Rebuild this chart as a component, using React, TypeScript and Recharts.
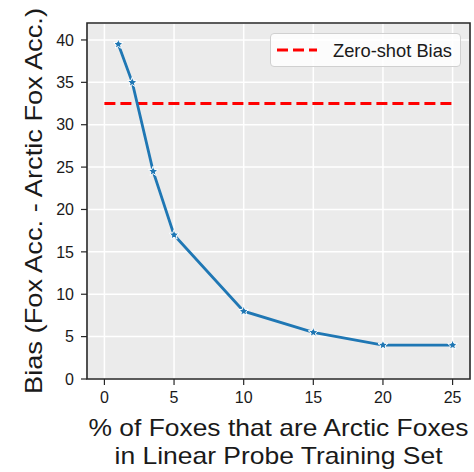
import React from 'react';
import { LineChart, Line, XAxis, YAxis, CartesianGrid, ReferenceArea, Legend, Label } from 'recharts';

const pctArctic = [1, 2, 3.5, 5, 10, 15, 20, 25];
const biasValues = [39.5, 35, 24.5, 17, 8, 5.5, 4, 4];
const zeroShotX = [0, 25];
const zeroShotBias = 32.5;
const xTicks = [0, 5, 10, 15, 20, 25];
const yTicks = [0, 5, 10, 15, 20, 25, 30, 35, 40];
const xLabelLines = ['% of Foxes that are Arctic Foxes', 'in Linear Probe Training Set'];
const yLabelText = 'Bias (Fox Acc. - Arctic Fox Acc.)';
const legendText = 'Zero-shot Bias';

const biasData = pctArctic.map((x, i) => ({ x, y: biasValues[i] }));
const zeroData = zeroShotX.map((x) => ({ x, y: zeroShotBias }));

const FONT = '"Liberation Sans", "DejaVu Sans", sans-serif';
const BLUE = '#1f77b4';

function StarDot(props: any) {
  const { cx, cy, index } = props;
  if (cx == null || cy == null) return null;
  const pts: string[] = [];
  const ro = 5.2;
  const ri = 2.3;
  for (let k = 0; k < 10; k++) {
    const r = k % 2 === 0 ? ro : ri;
    const a = -Math.PI / 2 + (k * Math.PI) / 5;
    pts.push(`${cx + r * Math.cos(a)},${cy + r * Math.sin(a)}`);
  }
  return <polygon key={`star-${index}`} points={pts.join(' ')} fill={BLUE} stroke="#ffffff" strokeWidth={1} strokeLinejoin="round" />;
}

function LegendBox() {
  return (
    <div
      style={{
        width: 191,
        height: 34,
        boxSizing: 'border-box',
        background: 'rgba(255,255,255,0.85)',
        border: '1px solid #d0d0d0',
        borderRadius: 4,
        position: 'relative',
        fontFamily: FONT,
      }}
    >
      <svg width={191} height={34} style={{ position: 'absolute', left: -1, top: -1 }}>
        <line x1={7} x2={47} y1={17} y2={17} stroke="#ff0000" strokeWidth={3} strokeDasharray="11 5" />
        <text x={63} y={17.5} dominantBaseline="central" fontSize={18.5} fill="#1a1a1a" fontFamily={FONT} textLength={119} lengthAdjust="spacingAndGlyphs">
          {legendText}
        </text>
      </svg>
    </div>
  );
}

function XLabelContent(props: any) {
  const vb = props.viewBox || {};
  const cx = vb.x + vb.width / 2;
  const lens = [380, 328];
  return (
    <g>
      {xLabelLines.map((t, i) => (
        <text key={i} x={cx} y={vb.y + 48 + i * 28} textAnchor="middle" dominantBaseline="central" fontSize={24} fill="#1a1a1a" fontFamily={FONT} textLength={lens[i]} lengthAdjust="spacingAndGlyphs">
          {t}
        </text>
      ))}
    </g>
  );
}

function YLabelContent(props: any) {
  const vb = props.viewBox || {};
  const cx = 33;
  const cy = vb.y + vb.height / 2;
  return (
    <text x={cx} y={cy} transform={`rotate(-90 ${cx} ${cy})`} textAnchor="middle" dominantBaseline="central" fontSize={24} fill="#1a1a1a" fontFamily={FONT} textLength={386} lengthAdjust="spacingAndGlyphs">
      {yLabelText}
    </text>
  );
}

export default function App() {
  return (
    <div style={{ position: 'absolute', left: 0, top: 0, width: 474, height: 472, background: '#fff' }}>
      <LineChart width={474} height={472} margin={{ top: 23, right: 4, left: 0, bottom: 0 }} style={{ fontFamily: FONT }}>
        <CartesianGrid fill="#EBEBEB" fillOpacity={1} stroke="#ffffff" strokeWidth={1.5} />
        <XAxis
          dataKey="x"
          type="number"
          domain={[-1.25, 26.25]}
          ticks={xTicks}
          allowDataOverflow
          height={93}
          axisLine={false}
          tickLine={{ stroke: '#262626', strokeWidth: 1.2 }}
          tickSize={6}
          tick={{ fill: '#1a1a1a', fontSize: 16, fontFamily: FONT }}
          tickMargin={7}
        >
          <Label content={<XLabelContent />} />
        </XAxis>
        <YAxis
          type="number"
          domain={[0, 42]}
          ticks={yTicks}
          allowDataOverflow
          width={87}
          axisLine={false}
          tickLine={{ stroke: '#262626', strokeWidth: 1.2 }}
          tickSize={6}
          tick={{ fill: '#1a1a1a', fontSize: 16, fontFamily: FONT }}
          tickMargin={7}
        >
          <Label content={<YLabelContent />} />
        </YAxis>
        <ReferenceArea x1={-1.25} x2={26.25} y1={0} y2={42} fill="none" stroke="#262626" strokeWidth={1.6} ifOverflow="visible" />
        <Line
          data={zeroData}
          dataKey="y"
          type="linear"
          stroke="#ff0000"
          strokeWidth={3}
          strokeDasharray="11 5"
          dot={false}
          activeDot={false}
          isAnimationActive={false}
          legendType="none"
        />
        <Line
          data={biasData}
          dataKey="y"
          type="linear"
          stroke={BLUE}
          strokeWidth={2.8}
          dot={<StarDot />}
          activeDot={false}
          isAnimationActive={false}
        />
        <Legend
          content={<LegendBox />}
          layout="horizontal"
          align="center"
          verticalAlign="middle"
          wrapperStyle={{ position: 'absolute', left: 270, top: 33, width: 191, height: 34 }}
        />
      </LineChart>
    </div>
  );
}
